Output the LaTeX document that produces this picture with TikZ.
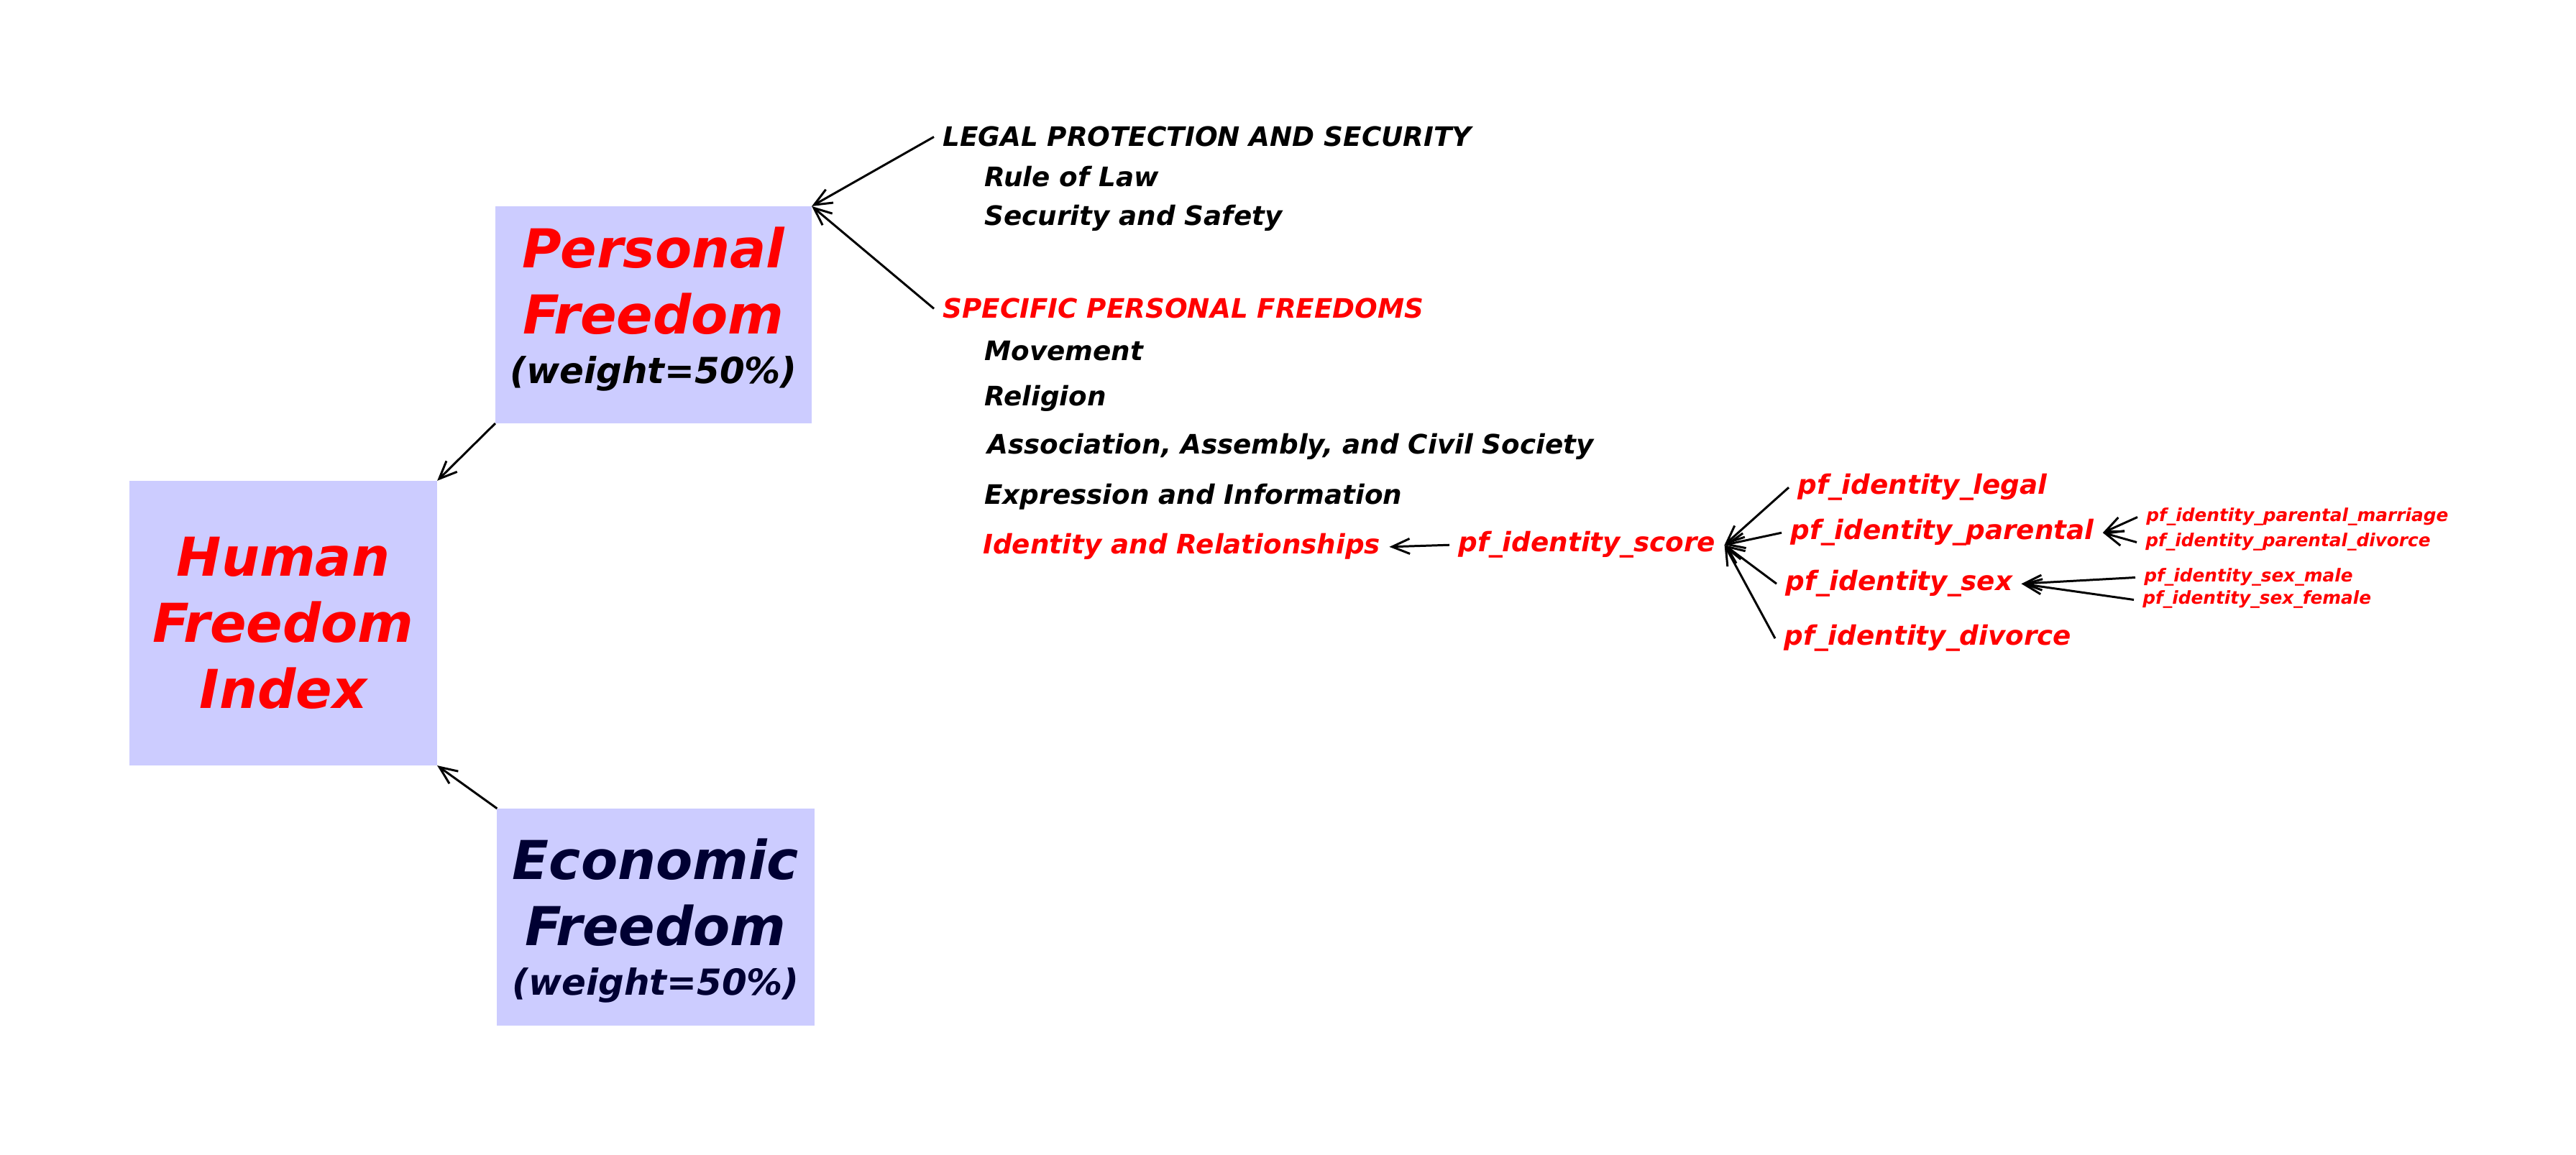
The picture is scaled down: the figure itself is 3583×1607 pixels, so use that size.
\documentclass[tikz,border=0pt]{standalone}
\usepackage{fontspec}
\setmainfont{DejaVu Sans}
\usepackage{xcolor}
\usetikzlibrary{arrows.meta, positioning}

\definecolor{boxblue}{RGB}{204,204,255}
\definecolor{efnavy}{RGB}{0,0,51}
\newcommand{\wtfont}{\fontsize{14.2}{16}\selectfont}

\begin{document}
\begin{tikzpicture}[
    x=0.01cm, y=-0.01cm,
    fbox/.style={rectangle, fill=boxblue, inner sep=0pt, outer sep=0pt,
                 align=center, font=\bfseries\itshape\fontsize{21.2}{26.1}\selectfont},
    item/.style={anchor=base west, font=\bfseries\itshape\fontsize{10.6}{12.7}\selectfont},
    subitem/.style={anchor=base west, text=red,
                    font=\bfseries\itshape\fontsize{7.05}{8.5}\selectfont},
    arrow/.style={-{Straight Barb[length=7pt, width=6pt]}, line width=0.85pt}
]
\useasboundingbox (0,0) rectangle (3583,1607);

% Index and its two halves
\node[fbox, text=red, minimum width=4.28cm, minimum height=3.96cm] (hfi) at (394,867)
    {Human\\Freedom\\Index};
\node[fbox, text=red, minimum width=4.40cm, minimum height=3.02cm] (pf) at (909,438)
    {Personal\\Freedom\\[-6.5pt]{\wtfont\color{black}(weight=50\%)\rule[-7.5pt]{0pt}{7.5pt}}};
\node[fbox, text=efnavy, minimum width=4.41cm, minimum height=3.02cm] (ef) at (912,1276)
    {\rule{0pt}{19pt}Economic\\Freedom\\[-6.5pt]{\wtfont(weight=50\%)}};

% Personal freedom categories
\node[item] (legal) at (1299,204) {LEGAL PROTECTION AND SECURITY};
\node[item] (rulelaw) at (1357,260) {Rule of Law};
\node[item] (safety) at (1357,314) {Security and Safety};
\node[item, text=red] (specific) at (1299,443) {SPECIFIC PERSONAL FREEDOMS};
\node[item] (movement) at (1357,502) {Movement};
\node[item] (religion) at (1357,565) {Religion};
\node[item] (assoc) at (1361,632) {Association, Assembly, and Civil Society};
\node[item] (expression) at (1357,702) {Expression and Information};
\node[item, text=red] (identity) at (1355,771) {Identity and Relationships};

% Identity variables
\node[item, text=red] (score) at (2016,768) {pf\_identity\_score};
\node[item, text=red] (idlegal) at (2488,688) {pf\_identity\_legal};
\node[item, text=red] (idparental) at (2478,751) {pf\_identity\_parental};
\node[item, text=red] (idsex) at (2471,822) {pf\_identity\_sex};
\node[item, text=red] (iddivorce) at (2469,898) {pf\_identity\_divorce};

\node[subitem] (parmarriage) at (2973,726) {pf\_identity\_parental\_marriage};
\node[subitem] (pardivorce) at (2972,761) {pf\_identity\_parental\_divorce};
\node[subitem] (sexmale) at (2970,810) {pf\_identity\_sex\_male};
\node[subitem] (sexfemale) at (2968,841) {pf\_identity\_sex\_female};

% Arrows
\draw[arrow] (pf.south west) -- (hfi.north east);
\draw[arrow] (ef.north west) -- (hfi.south east);
\draw[arrow] (legal.west) -- (pf.north east);
\draw[arrow] (specific.west) -- (pf.north east);
\draw[arrow] (score.west) -- (identity.east);
\foreach \n in {idlegal, idparental, idsex, iddivorce}
    \draw[arrow] (\n.west) -- (score.east);
\foreach \n in {parmarriage, pardivorce}
    \draw[arrow] (\n.west) -- (idparental.east);
\foreach \n in {sexmale, sexfemale}
    \draw[arrow] (\n.west) -- (idsex.east);

\end{tikzpicture}
\end{document}
